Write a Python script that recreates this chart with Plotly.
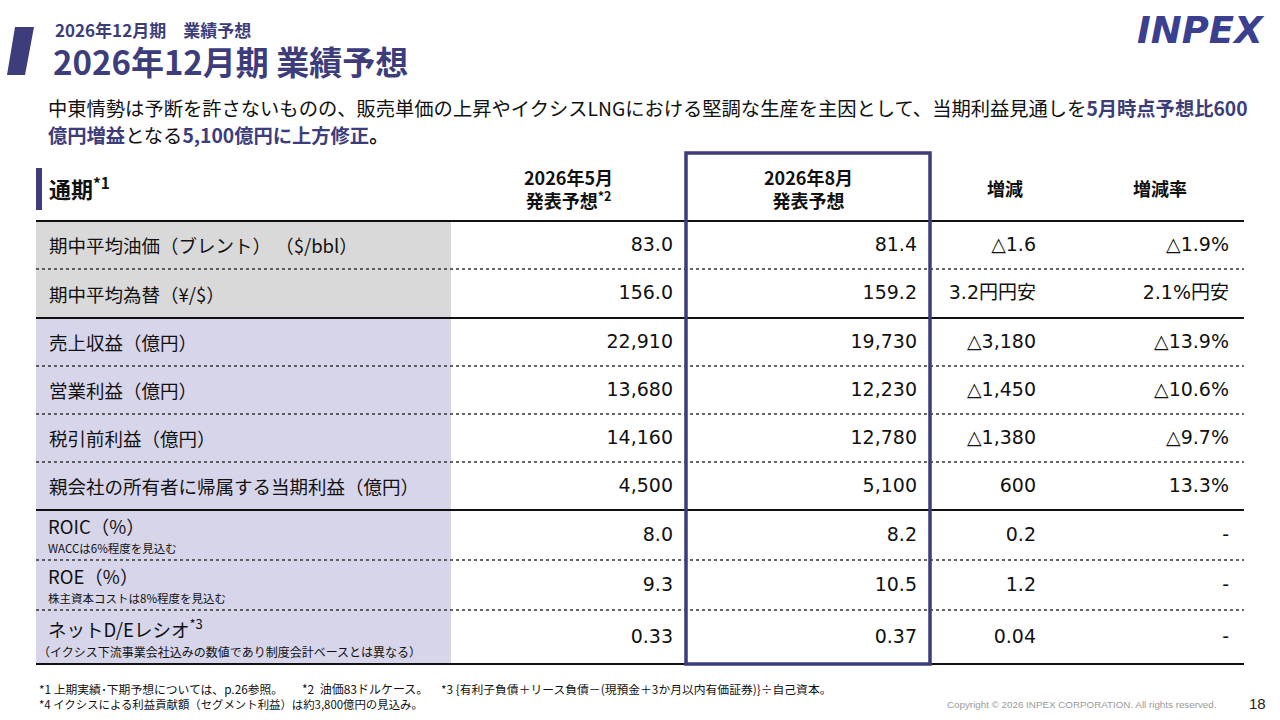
import plotly.graph_objects as go

# 表のデータ
row_labels = ["期中平均油価（ブレント） （$/bbl）", "期中平均為替（¥/$）", "売上収益（億円）", "営業利益（億円）",
              "税引前利益（億円）", "親会社の所有者に帰属する当期利益（億円）", "ROIC（%）", "ROE（%）",
              "ネットD/Eレシオ<sup>*3</sup>"]
row_notes = ["", "", "", "", "", "", "WACCは6%程度を見込む", "株主資本コストは8%程度を見込む",
             "（イクシス下流事業会社込みの数値であり制度会計ベースとは異なる）"]
may_forecast = ["83.0", "156.0", "22,910", "13,680", "14,160", "4,500", "8.0", "9.3", "0.33"]
aug_forecast = ["81.4", "159.2", "19,730", "12,230", "12,780", "5,100", "8.2", "10.5", "0.37"]
change = ["△1.6", "3.2円円安", "△3,180", "△1,450", "△1,380", "600", "0.2", "1.2", "0.04"]
change_rate = ["△1.9%", "2.1%円安", "△13.9%", "△10.6%", "△9.7%", "13.3%", "-", "-", "-"]
col_headers = ["2026年5月<br>発表予想<sup>*2</sup>", "2026年8月<br>発表予想", "増減", "増減率"]

NAVY = "#3d3d7c"
JP = "Noto Sans CJK JP"
NUM = "DejaVu Sans, Noto Sans CJK JP"

# 行の境界 (px)
edges = [221, 269, 318, 366, 414, 462, 510, 560, 610, 664]
centers = [(a + b) / 2 for a, b in zip(edges[:-1], edges[1:])]
col_right = [673, 917, 1036, 1229]
col_center = [568, 808, 1005, 1160]

fig = go.Figure()

# 数値のセル
for xr, vals in zip(col_right, [may_forecast, aug_forecast, change, change_rate]):
    fig.add_trace(go.Scatter(x=[xr] * len(vals), y=[c + 1 for c in centers], mode="text", text=vals,
                             textposition="middle left", hoverinfo="skip",
                             textfont=dict(family=NUM, size=19, color="#111")))

shapes = []
# 左列の背景
for i in range(len(row_labels)):
    shapes.append(dict(type="rect", x0=36, x1=451, y0=edges[i], y1=edges[i + 1], line_width=0, layer="below",
                       fillcolor="#d9d9d9" if i < 2 else "#d6d5ea"))
# 罫線
solid = {0, 2, 6, 9}
for i, y in enumerate(edges):
    if i in solid:
        shapes.append(dict(type="line", x0=36, x1=1244, y0=y, y1=y, line=dict(color="#111", width=2)))
    else:
        shapes.append(dict(type="line", x0=36, x1=1244, y0=y, y1=y, line=dict(color="#333", width=1.5, dash="dot")))
# 8月予想の枠
shapes.append(dict(type="rect", x0=686, x1=930, y0=153, y1=664, line=dict(color=NAVY, width=3.5)))
# タイトルの斜線
shapes.append(dict(type="path", path="M 15 27 L 34 27 L 25 75 L 7 75 Z", fillcolor=NAVY, line_width=0))
# 見出しバー
shapes.append(dict(type="rect", x0=36, x1=42, y0=168, y1=210, fillcolor=NAVY, line_width=0))

ann = []


def txt(x, y, s, size, color="#111", bold=False, xanchor="left", family=JP):
    ann.append(dict(x=x, y=y, text=f"<b>{s}</b>" if bold else s, showarrow=False, xanchor=xanchor,
                    yanchor="middle", font=dict(family=family, size=size, color=color)))


txt(53, 29, "2026年12月期　業績予想", 17, NAVY, True)
txt(51, 61, "2026年12月期 業績予想", 33, NAVY, True)
ann.append(dict(x=1267, y=30, text="<b><i>INPEX</i></b>", showarrow=False, xanchor="right", yanchor="middle",
                font=dict(family="DejaVu Sans", size=37, color="#3a3f8f")))

hl = f"<span style='color:{NAVY}'><b>%s</b></span>"
txt(46, 108, "中東情勢は予断を許さないものの、販売単価の上昇やイクシスLNGにおける堅調な生産を主因として、当期利益見通しを"
    + hl % "5月時点予想比600", 19.3)
txt(46, 135, hl % "億円増益" + "となる" + hl % "5,100億円に上方修正" + "<b>。</b>", 19.3)

txt(47, 187, "通期<sup>*1</sup>", 22, "#111", True)
for i, h in enumerate(col_headers):
    ann.append(dict(x=col_center[i], y=188, text=f"<b>{h}</b>", showarrow=False, xanchor="center",
                    yanchor="middle", font=dict(family=JP, size=18, color="#111")))

for i, (lab, note) in enumerate(zip(row_labels, row_notes)):
    if note:
        txt(46, centers[i] - 9, lab, 18.5)
        txt(46 if i < 8 else 36, centers[i] + (13 if i < 8 else 14), note, 11.5 if i < 8 else 12)
    else:
        txt(47, centers[i], lab, 18.5)

txt(37, 688, "*1 上期実績･下期予想については、p.26参照。", 11.8)
txt(300, 688, "*2  油価83ドルケース。", 12)
txt(439, 688, "*3 {有利子負債＋リース負債－(現預金＋3か月以内有価証券)}÷自己資本。", 11.8)
txt(37, 704, "*4 イクシスによる利益貢献額（セグメント利益）は約3,800億円の見込み。", 11.4)
txt(1218, 704, "Copyright © 2026 INPEX CORPORATION. All rights reserved.", 9.8, "#9a9a9a", xanchor="right",
    family="Liberation Sans")
txt(1268, 703, "18", 15, "#222", xanchor="right", family="Liberation Sans")

fig.update_layout(width=1280, height=720, margin=dict(l=0, r=0, t=0, b=0), showlegend=False,
                  plot_bgcolor="white", paper_bgcolor="white", shapes=shapes, annotations=ann,
                  xaxis=dict(range=[0, 1280], visible=False, fixedrange=True),
                  yaxis=dict(range=[720, 0], visible=False, fixedrange=True))
fig.write_html("out.html", config={"displayModeBar": False},
               post_script="document.body.style.margin='0px';")
